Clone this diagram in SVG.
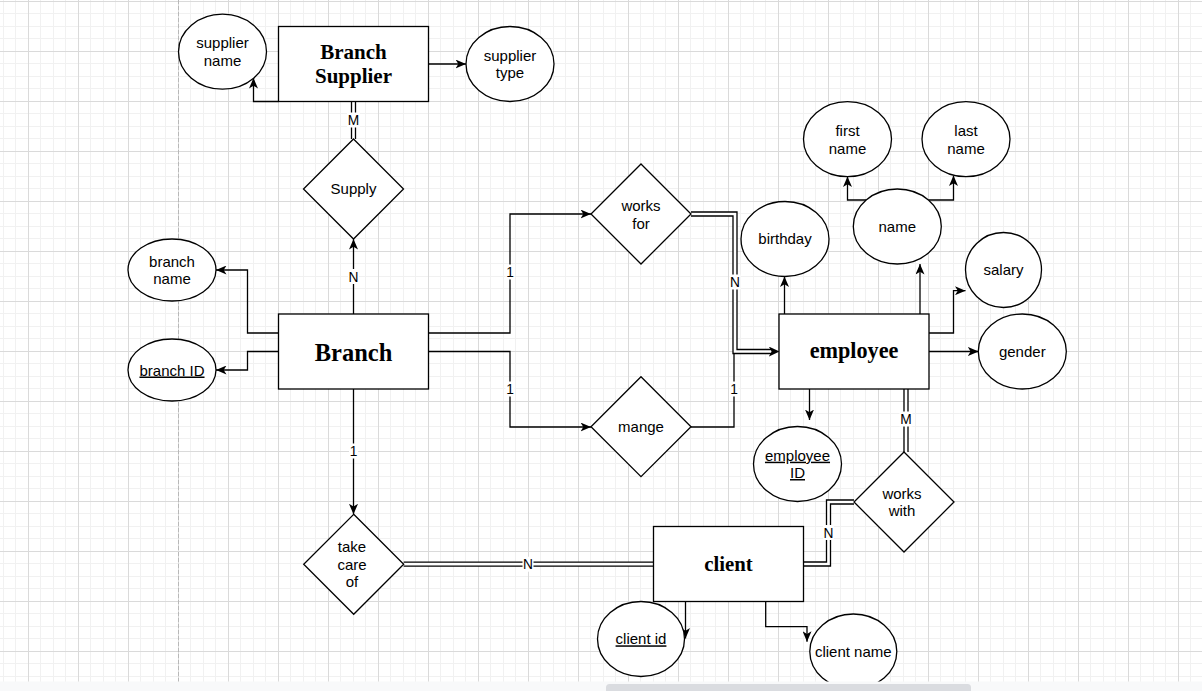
<svg xmlns="http://www.w3.org/2000/svg" width="1202" height="691" viewBox="0 0 1202 691">
<defs>
<pattern id="grid" x="28" y="1" width="50" height="50" patternUnits="userSpaceOnUse">
<rect width="50" height="50" fill="#fff"/>
<rect x="12" y="0" width="1" height="50" fill="#f1f1f1"/>
<rect x="25" y="0" width="1" height="50" fill="#f1f1f1"/>
<rect x="37" y="0" width="1" height="50" fill="#f1f1f1"/>
<rect x="0" y="12" width="50" height="1" fill="#f1f1f1"/>
<rect x="0" y="25" width="50" height="1" fill="#f1f1f1"/>
<rect x="0" y="37" width="50" height="1" fill="#f1f1f1"/>
<rect x="0" y="0" width="1" height="50" fill="#dadada"/>
<rect x="0" y="0" width="50" height="1" fill="#dadada"/>
</pattern>
<marker id="arr" markerUnits="userSpaceOnUse" markerWidth="10.5" markerHeight="9" viewBox="0 0 10.5 9" refX="10.5" refY="4.5" orient="auto">
<path d="M0,0 L10.5,4.5 L0,9 L2.8,4.5 Z" fill="#000"/>
</marker>
<marker id="arrD" markerUnits="userSpaceOnUse" markerWidth="10.5" markerHeight="10" viewBox="0 0 10.5 10" refX="2.2" refY="5" orient="auto">
<path d="M0,0 L10.5,5 L0,10 L2.8,5 Z" fill="#000"/>
</marker>
</defs>
<style>
.s{fill:#fff;stroke:#000;stroke-width:1.3}
.t{font-family:"Liberation Sans",Arial,sans-serif;font-size:15px;fill:#000;text-anchor:middle}
.u{text-decoration:underline}
.b{font-family:"Liberation Serif","Times New Roman",serif;font-weight:bold;text-anchor:middle;fill:#000}
.e{fill:none;stroke:#000;stroke-width:1.3}
.ea{fill:none;stroke:#000;stroke-width:1.3;marker-end:url(#arr)}
.d1{fill:none;stroke:#000;stroke-width:5.3}
.d2{fill:none;stroke:#fff;stroke-width:2.7}
.lb{fill:#fff}
.lt{font-family:"Liberation Sans",Arial,sans-serif;font-size:13.75px;text-anchor:middle;fill:#000}
</style>
<rect width="1202" height="691" fill="url(#grid)"/>
<line x1="178.5" y1="0" x2="178.5" y2="682" stroke="#b8b8b8" stroke-width="1" stroke-dasharray="4 2"/>

<g id="connectors">
<path class="ea" d="M278.5,101.5 H253.5 V78"/>
<path class="ea" d="M428.5,64 H466"/>
<path class="ea" d="M353.5,314 V239"/>
<path class="d1" d="M353.5,139 V101.5"/>
<path class="d2" d="M353.5,139 V101.5"/>
<path class="ea" d="M278.5,333 H247.5 V270 H216"/>
<path class="ea" d="M278.5,351.5 H247.5 V370 H216"/>
<path class="ea" d="M428.5,333 H510 V214 H591"/>
<path class="ea" d="M428.5,351.5 H510 V427 H591"/>
<path class="e" d="M691,427 H734 V352"/>
<path class="d1" d="M691,214 H735 V351.5 H771" marker-end="url(#arrD)"/>
<path class="d2" d="M691,214 H735 V351.5 H771"/>
<path class="ea" d="M784.5,314 V276.5"/>
<path class="ea" d="M920,314 V264"/>
<path class="ea" d="M866,200 H847.5 V176.5"/>
<path class="ea" d="M928.5,200 H953.5 V175.5"/>
<path class="ea" d="M929,333 H953.5 V290.7 H965.5"/>
<path class="ea" d="M929,351.5 H978.3"/>
<path class="ea" d="M809.5,389 V420"/>
<path class="d1" d="M906,389 V452"/>
<path class="d2" d="M906,389 V452"/>
<path class="ea" d="M353.5,389 V514.3"/>
<path class="d1" d="M403.7,564.2 H653.5"/>
<path class="d2" d="M403.7,564.2 H653.5"/>
<path class="d1" d="M803.5,564 H828.5 V502 H854"/>
<path class="d2" d="M803.5,564 H828.5 V502 H854"/>
<path class="ea" d="M685.5,601.5 V638.5"/>
<path class="ea" d="M765.7,601.5 V626.7 H807 V641.7"/>

<rect class="lb" x="347" y="112.5" width="13" height="15"/>
<text class="lt" x="353.5" y="125">M</text>
<rect class="lb" x="348" y="269" width="11" height="15"/>
<text class="lt" x="353.5" y="281.5">N</text>
<rect class="lb" x="505.5" y="264.5" width="9" height="15"/>
<text class="lt" x="510" y="277">1</text>
<rect class="lb" x="505.5" y="381.5" width="9" height="15"/>
<text class="lt" x="510" y="394">1</text>
<rect class="lb" x="729.5" y="381.5" width="9" height="15"/>
<text class="lt" x="734" y="394">1</text>
<rect class="lb" x="729.5" y="274.5" width="11" height="15"/>
<text class="lt" x="735" y="287">N</text>
<rect class="lb" x="899.5" y="411.5" width="13" height="15"/>
<text class="lt" x="906" y="424">M</text>
<rect class="lb" x="349" y="443.5" width="9" height="15"/>
<text class="lt" x="353.5" y="456">1</text>
<rect class="lb" x="522.5" y="556.7" width="11" height="15"/>
<text class="lt" x="528" y="569.2">N</text>
<rect class="lb" x="823" y="525" width="11" height="15"/>
<text class="lt" x="828.5" y="537.5">N</text>
</g>

<g id="branch-supplier">
<rect class="s" x="278.5" y="26.5" width="150" height="75"/>
<text class="b" x="353.5" y="59.3" font-size="21">Branch</text>
<text class="b" x="353.5" y="83.3" font-size="21">Supplier</text>
</g>
<g id="supplier-name">
<ellipse class="s" cx="222.5" cy="51.7" rx="44" ry="37.5"/>
<text class="t" x="222.5" y="48.4">supplier</text>
<text class="t" x="222.5" y="65.7">name</text>
</g>
<g id="supplier-type">
<ellipse class="s" cx="510" cy="64" rx="44" ry="37.5"/>
<text class="t" x="510" y="60.8">supplier</text>
<text class="t" x="510" y="78.1">type</text>
</g>
<g id="supply">
<polygon class="s" points="353.5,139 403.5,189 353.5,239 303.5,189"/>
<text class="t" x="353.5" y="194.3">Supply</text>
</g>
<g id="branch">
<rect class="s" x="278.5" y="314" width="150" height="75"/>
<text class="b" x="353.5" y="360.5" font-size="24.5">Branch</text>
</g>
<g id="branch-name">
<ellipse class="s" cx="172" cy="270" rx="44" ry="31"/>
<text class="t" x="172" y="266.8">branch</text>
<text class="t" x="172" y="284.1">name</text>
</g>
<g id="branch-id">
<ellipse class="s" cx="172" cy="370" rx="44" ry="31"/>
<text class="t u" x="172" y="375.5">branch ID</text>
</g>
<g id="works-for">
<polygon class="s" points="641,164 691,214 641,264 591,214"/>
<text class="t" x="641" y="211.2">works</text>
<text class="t" x="641" y="228.5">for</text>
</g>
<g id="mange">
<polygon class="s" points="641,376.7 691,426.7 641,476.7 591,426.7"/>
<text class="t" x="641" y="432">mange</text>
</g>
<g id="employee">
<rect class="s" x="779" y="314" width="150" height="75"/>
<text class="b" x="854" y="358.4" font-size="22.2">employee</text>
</g>
<g id="birthday">
<ellipse class="s" cx="785" cy="239" rx="44" ry="37.5"/>
<text class="t" x="785" y="244.3">birthday</text>
</g>
<g id="name">
<ellipse class="s" cx="897.3" cy="226.5" rx="44" ry="37.5"/>
<text class="t" x="897.3" y="231.8">name</text>
</g>
<g id="first-name">
<ellipse class="s" cx="847.5" cy="139.2" rx="44" ry="37.5"/>
<text class="t" x="847.5" y="136.4">first</text>
<text class="t" x="847.5" y="153.7">name</text>
</g>
<g id="last-name">
<ellipse class="s" cx="966" cy="139.2" rx="44" ry="37.5"/>
<text class="t" x="966" y="136.4">last</text>
<text class="t" x="966" y="153.7">name</text>
</g>
<g id="salary">
<ellipse class="s" cx="1003.5" cy="270" rx="38" ry="37.5"/>
<text class="t" x="1003.5" y="275.3">salary</text>
</g>
<g id="gender">
<ellipse class="s" cx="1022.3" cy="351.5" rx="44" ry="37.5"/>
<text class="t" x="1022.3" y="356.8">gender</text>
</g>
<g id="employee-id">
<ellipse class="s" cx="797.5" cy="464" rx="44" ry="37.5"/>
<text class="t u" x="797.5" y="460.7">employee</text>
<text class="t u" x="797.5" y="478">ID</text>
</g>
<g id="works-with">
<polygon class="s" points="904,452 954,502 904,552 854,502"/>
<text class="t" x="902" y="498.7">works</text>
<text class="t" x="902" y="516">with</text>
</g>
<g id="take-care-of">
<polygon class="s" points="353.7,514.3 403.7,564.3 353.7,614.3 303.7,564.3"/>
<text class="t" x="352" y="552.3">take</text>
<text class="t" x="352" y="569.6">care</text>
<text class="t" x="352" y="586.9">of</text>
</g>
<g id="client">
<rect class="s" x="653.5" y="526.5" width="150" height="75"/>
<text class="b" x="728.5" y="570.7" font-size="20.8">client</text>
</g>
<g id="client-id">
<ellipse class="s" cx="641" cy="639" rx="43.5" ry="37.5"/>
<text class="t u" x="641" y="644.3">client id</text>
</g>
<g id="client-name">
<ellipse class="s" cx="853.3" cy="651.5" rx="43.5" ry="37.5"/>
<text class="t" x="853.3" y="656.8">client name</text>
</g>

<rect x="0" y="681.5" width="1202" height="9.5" fill="#f8f9fa"/>
<rect x="606" y="684" width="365" height="10" rx="3.5" fill="#dadce0"/>
</svg>
